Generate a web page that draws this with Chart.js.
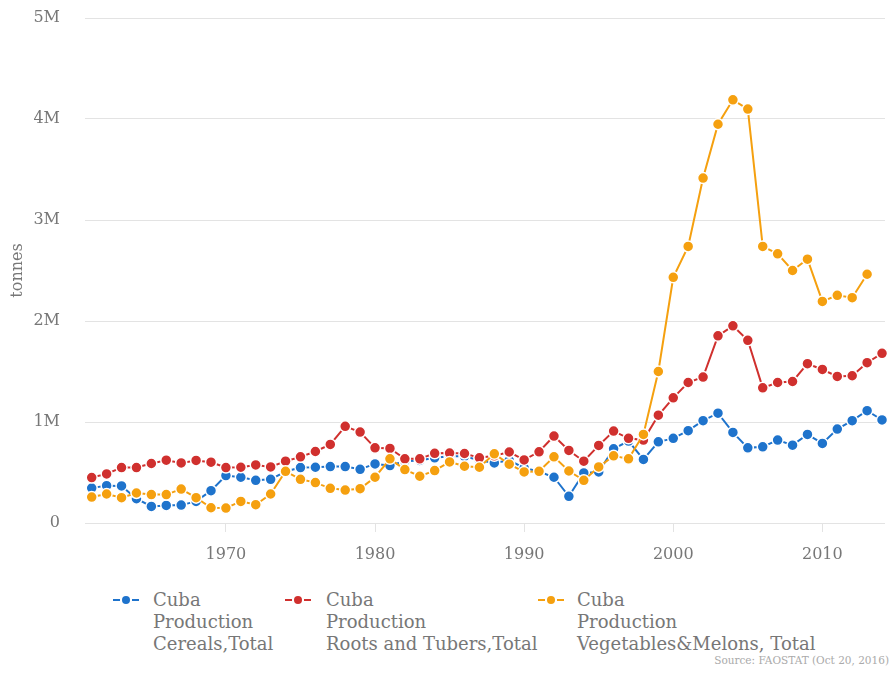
<!DOCTYPE html>
<html>
<head>
<meta charset="utf-8">
<script src="https://cdn.jsdelivr.net/npm/chart.js@4.4.1/dist/chart.umd.min.js"></script>
<style>
  html, body { margin: 0; padding: 0; background: #fff; }
  body { width: 892px; height: 678px; position: relative; overflow: hidden; font-family: "DejaVu Serif", serif; }
  #wrap { position: absolute; left: 0; top: 0; width: 892px; height: 563px; }
  #legend { position: absolute; left: 0; top: 589px; width: 892px; }
  .item { position: absolute; top: 0; color: #777; font-size: 18px; line-height: 22px; white-space: nowrap; }
  .item .mark { position: absolute; top: 10px; width: 26px; height: 2px; }
  .item .dot { position: absolute; top: 7px; width: 8px; height: 8px; border-radius: 50%; }
  #source { position: absolute; right: 3px; top: 654px; font-size: 10.5px; color: #aaa; }
</style>
</head>
<body>
<div id="wrap"><canvas id="chart"></canvas></div>
<div id="legend"></div>
<div id="source">Source: FAOSTAT (Oct 20, 2016)</div>
<script>
// jaren 1961 - 2014
const years = [];
for (let y = 1961; y <= 2014; y++) years.push(y);

// productie in tonnes
const cereals = [
  346000, 370000, 367000, 241000, 164000, 174000, 177000, 214000, 320000, 470000,
  453000, 423000, 433000, 510000, 549000, 552000, 559000, 559000, 532000, 585000,
  569000, 612000, 620000, 645000, 660000, 660000, 620000, 595000, 620000, 545000,
  510000, 453000, 264000, 496000, 506000, 735000, 811000, 629000, 804000, 838000,
  914000, 1013000, 1087000, 897000, 744000, 754000, 821000, 771000, 877000, 788000,
  930000, 1013000, 1112000, 1020000
];
const roots = [
  450000, 486000, 549000, 549000, 589000, 622000, 595000, 619000, 602000, 549000,
  552000, 575000, 555000, 612000, 655000, 708000, 778000, 957000, 900000, 744000,
  738000, 635000, 635000, 690000, 692000, 688000, 645000, 665000, 703000, 625000,
  705000, 861000, 718000, 612000, 768000, 910000, 838000, 821000, 1067000, 1239000,
  1391000, 1445000, 1853000, 1952000, 1809000, 1338000, 1391000, 1401000, 1577000, 1520000,
  1451000, 1458000, 1587000, 1680000
];
const vegetables = [
  257000, 287000, 251000, 297000, 281000, 281000, 336000, 251000, 151000, 148000,
  214000, 181000, 287000, 512000, 433000, 400000, 343000, 326000, 340000, 453000,
  635000, 529000, 463000, 519000, 605000, 562000, 552000, 685000, 582000, 506000,
  512000, 655000, 515000, 423000, 555000, 665000, 635000, 877000, 1500000, 2433000,
  2738000, 3415000, 3948000, 4190000, 4098000, 2738000, 2665000, 2500000, 2612000, 2194000,
  2254000, 2231000, 2463000, null
];

const xTicks = [1970, 1980, 1990, 2000, 2010];

const series = [
  { lines: ['Cuba', 'Production', 'Cereals,Total'], data: cereals, color: '#1e73cc', order: 2, dot: 126, text: 153 },
  { lines: ['Cuba', 'Production', 'Roots and Tubers,Total'], data: roots, color: '#d0302e', order: 1, dot: 298, text: 326 },
  { lines: ['Cuba', 'Production', 'Vegetables&Melons, Total'], data: vegetables, color: '#f5a00f', order: 0, dot: 551, text: 577 }
];

const gridColor = '#e3e3e3';
const textColor = '#777';

const datasets = series.map(s => ({
  label: s.lines.join(' '),
  data: years.map((y, i) => ({ x: y, y: s.data[i] })),
  borderColor: s.color,
  backgroundColor: s.color,
  borderWidth: 2,
  pointRadius: 5.5,
  pointBorderColor: '#fff',
  pointBorderWidth: 1.5,
  pointBackgroundColor: s.color,
  order: s.order,
  spanGaps: false,
  clip: false,
}));

new Chart(document.getElementById('chart'), {
  type: 'line',
  data: { datasets },
  options: {
    responsive: true,
    maintainAspectRatio: false,
    animation: false,
    layout: { padding: { top: 18, right: 0, left: 0, bottom: 0 } },
    plugins: { legend: { display: false }, tooltip: { enabled: false } },
    scales: {
      x: {
        type: 'linear',
        min: 1960.55,
        max: 2014.2,
        afterBuildTicks: scale => { scale.ticks = xTicks.map(v => ({ value: v })); },
        afterFit: scale => { scale.height = 40; },
        border: { display: false },
        grid: { drawOnChartArea: false, drawTicks: true, tickLength: 9, tickColor: gridColor },
        ticks: { color: textColor, padding: 13, font: { family: 'DejaVu Serif', size: 16 }, callback: v => String(v) }
      },
      y: {
        min: 0,
        max: 5000000,
        afterFit: scale => { scale.width = 85; },
        border: { display: false },
        // onzichtbare tick-streepjes geven de afstand tussen label en grafiek
        grid: { color: gridColor, lineWidth: 1, drawTicks: true, tickLength: 25, tickColor: 'rgba(0,0,0,0)' },
        ticks: {
          stepSize: 1000000,
          padding: 0,
          color: textColor,
          font: { family: 'DejaVu Serif', size: 16 },
          callback: v => v === 0 ? '0' : (v / 1000000) + 'M'
        },
        title: { display: true, text: 'tonnes', color: textColor, padding: { top: 8, bottom: 0 }, font: { family: 'DejaVu Serif', size: 16 } }
      }
    }
  }
});

// legenda met meerdere regels (HTML)
const legend = document.getElementById('legend');
series.forEach(s => {
  const mark = document.createElement('div');
  mark.className = 'item';
  mark.style.left = (s.dot - 13) + 'px';
  mark.innerHTML =
    `<span class="mark" style="left:0;background:linear-gradient(to right, ${s.color} 0 7px, transparent 7px 19px, ${s.color} 19px 26px)"></span>` +
    `<span class="dot" style="left:9px;background:${s.color}"></span>`;
  legend.appendChild(mark);

  const text = document.createElement('div');
  text.className = 'item';
  text.style.left = s.text + 'px';
  text.innerHTML = s.lines.join('<br>');
  legend.appendChild(text);
});
</script>
</body>
</html>
